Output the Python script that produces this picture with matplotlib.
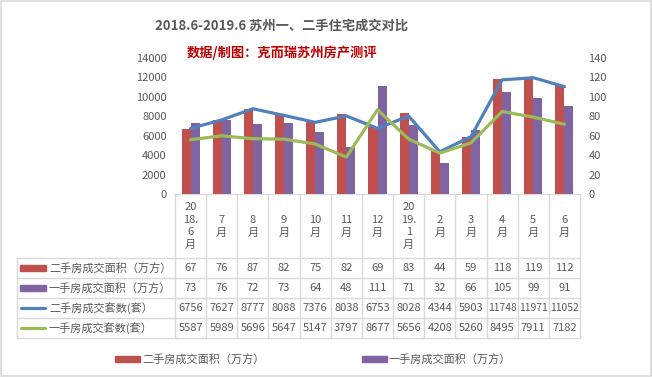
""" 2018.6-2019.6 Suzhou new / resale housing transactions """

import matplotlib.pyplot as plt
from matplotlib import patches, lines

plt.rcParams['font.family'] = ['Noto Sans CJK SC', 'DejaVu Sans']

months = ['20\n18.\n6\n月', '7\n月', '8\n月', '9\n月', '10\n月', '11\n月', '12\n月',
          '20\n19.\n1\n月', '2\n月', '3\n月', '4\n月', '5\n月', '6\n月']
resale_area = [67, 76, 87, 82, 75, 82, 69, 83, 44, 59, 118, 119, 112]
new_area = [73, 76, 72, 73, 64, 48, 111, 71, 32, 66, 105, 99, 91]
resale_units = [6756, 7627, 8777, 8088, 7376, 8038, 6753, 8028, 4344, 5903, 11748, 11971, 11052]
new_units = [5587, 5989, 5696, 5647, 5147, 3797, 8677, 5656, 4208, 5260, 8495, 7911, 7182]

labels = ['二手房成交面积（万方）', '一手房成交面积（万方）', '二手房成交套数(套）', '一手房成交套数(套）']
RED, PURPLE, BLUE, GREEN = '#C0504D', '#8064A2', '#4F81BD', '#9BBB59'
GRID = '#D9D9D9'
TXT = '#595959'

W, H = 652, 377
fig = plt.figure(figsize=(W / 100, H / 100), dpi=100)

# plot area in pixel coordinates
px0, px1, py_top, py_bot = 175, 580, 58, 194
n = len(months)
cw = (px1 - px0) / n

ax = fig.add_axes([px0 / W, 1 - py_bot / H, (px1 - px0) / W, (py_bot - py_top) / H])
x = list(range(n))
bw = 0.29
ax.bar([i - bw / 2 for i in x], resale_area, bw, color=RED, zorder=2)
ax.bar([i + bw / 2 for i in x], new_area, bw, color=PURPLE, zorder=2)
ax.set_xlim(-0.5, n - 0.5)
ax.set_ylim(0, 140)
ax.set_yticks(range(0, 141, 20))
ax.set_xticks([])

axl = ax.twinx()
axl.plot(x, resale_units, color=BLUE, lw=2.3, solid_capstyle='round')
axl.plot(x, new_units, color=GREEN, lw=2.3, solid_capstyle='round')
axl.set_ylim(0, 14000)
axl.set_yticks(range(0, 14001, 2000))
ax.yaxis.tick_right()
axl.yaxis.tick_left()

for a in (ax, axl):
    for s in a.spines.values():
        s.set_visible(False)
    a.tick_params(axis='y', length=0, labelsize=8, labelcolor=TXT, pad=6)
    a.patch.set_visible(False)
ax.spines['bottom'].set_visible(True)
ax.spines['bottom'].set_color(GRID)

# overlay in pixel coordinates for table, titles and legend
ov = fig.add_axes([0, 0, 1, 1], zorder=-1)
ov.set_xlim(0, W)
ov.set_ylim(H, 0)
ov.axis('off')
ov.add_patch(patches.Rectangle((0.5, 0.5), W - 1.5, H - 1.5, fill=False, ec=GRID, lw=1.2))

ov.text(282, 26, '2018.6-2019.6 苏州一、二手住宅成交对比', ha='center', va='center',
        fontsize=9.5, fontweight='bold', color=TXT)
ov.text(282, 53, '数据/制图：克而瑞苏州房产测评', ha='center', va='center',
        fontsize=9.5, fontweight='bold', color='#C00000')

# data table
tab_left, head_top, tab_top, rh = 17, py_bot, 258, 20
rows = [resale_area, new_area, resale_units, new_units]
tab_bot = tab_top + rh * len(rows)
gl = dict(color=GRID, lw=1)
for i in range(n + 1):
    xv = px0 + i * cw
    ov.add_line(lines.Line2D([xv, xv], [head_top, tab_bot], **gl))
ov.add_line(lines.Line2D([tab_left, tab_left], [tab_top, tab_bot], **gl))
for r in range(len(rows) + 1):
    yv = tab_top + r * rh
    ov.add_line(lines.Line2D([tab_left, px1], [yv, yv], **gl))

for i, m in enumerate(months):
    ov.text(px0 + (i + 0.5) * cw, (head_top + tab_top) / 2, m, ha='center', va='center',
            fontsize=8, color=TXT, linespacing=1.35)

for r, vals in enumerate(rows):
    yc = tab_top + (r + 0.5) * rh
    for i, v in enumerate(vals):
        ov.text(px0 + (i + 0.5) * cw, yc, str(v), ha='center', va='center',
                fontsize=8 if v < 10000 else 7.4, color=TXT)
    ov.text(49, yc, labels[r], ha='left', va='center', fontsize=8, color=TXT)

# row keys
for r, c in enumerate([RED, PURPLE]):
    yc = tab_top + (r + 0.5) * rh
    ov.add_patch(patches.Rectangle((20, yc - 3), 26, 6, color=c))
for r, c in zip([2, 3], [BLUE, GREEN]):
    yc = tab_top + (r + 0.5) * rh
    ov.add_line(lines.Line2D([21, 45], [yc, yc], color=c, lw=2.3, solid_capstyle='round'))

# bottom legend
for x0, c, lab in [(115, RED, labels[0]), (362, PURPLE, labels[1])]:
    ov.add_patch(patches.Rectangle((x0, 356), 25, 6, color=c))
    ov.text(x0 + 27, 359, lab, ha='left', va='center', fontsize=8, color=TXT)

fig.savefig('out.png', dpi=100)
